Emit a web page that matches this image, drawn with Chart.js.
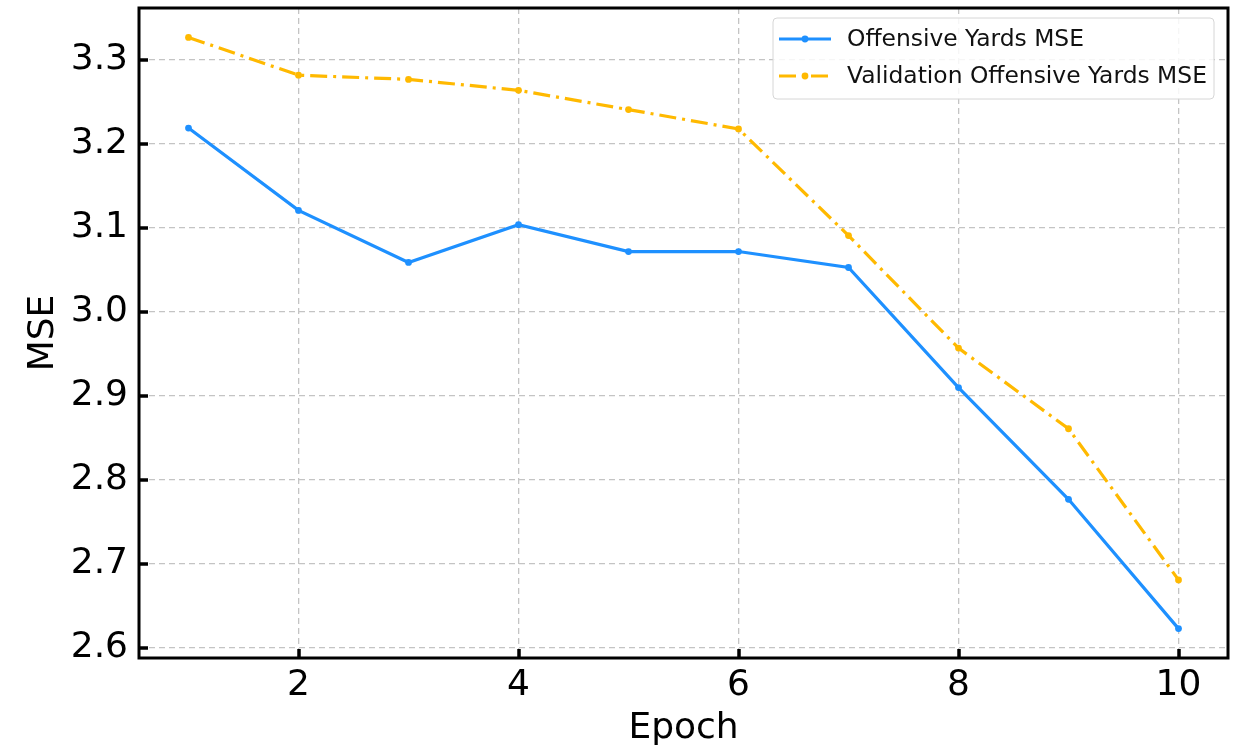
<!DOCTYPE html>
<html>
<head>
<meta charset="utf-8">
<script src="https://cdn.jsdelivr.net/npm/chart.js@4.4.1/dist/chart.umd.min.js"></script>
<style>
  html, body { margin: 0; padding: 0; background: #ffffff; }
  #wrap { width: 1235px; height: 754px; position: relative; }
</style>
</head>
<body>
<div id="wrap"><canvas id="chart"></canvas></div>
<script>
// Training history per epoch
const epochs = [1, 2, 3, 4, 5, 6, 7, 8, 9, 10];
const trainMSE = [3.219, 3.121, 3.059, 3.104, 3.072, 3.072, 3.053, 2.910, 2.777, 2.623];
const valMSE = [3.327, 3.282, 3.277, 3.264, 3.241, 3.218, 3.091, 2.957, 2.861, 2.681];
const xTicks = [2, 4, 6, 8, 10];
const yTicks = [2.6, 2.7, 2.8, 2.9, 3.0, 3.1, 3.2, 3.3];
const seriesNames = ['Offensive Yards MSE', 'Validation Offensive Yards MSE'];

const BLUE = '#1E90FF';
const GOLD = '#FFB900';
const FONT = "'DejaVu Sans', sans-serif";
const DASH_DOT = [17, 6, 3, 6];

const toPoints = (xs, ys) => xs.map((x, i) => ({ x: x, y: ys[i] }));

// Frame, inward tick marks and legend box drawn on top of the plot
const framePlugin = {
  id: 'frame',
  afterDatasetsDraw(chart) {
    const { ctx, chartArea: a, scales } = chart;
    ctx.save();
    // inward ticks
    ctx.strokeStyle = '#000';
    ctx.lineWidth = 3.5;
    ctx.beginPath();
    xTicks.forEach(v => {
      const px = Math.round(scales.x.getPixelForValue(v));
      ctx.moveTo(px, a.bottom);
      ctx.lineTo(px, a.bottom - 9);
    });
    yTicks.forEach(v => {
      const py = Math.round(scales.y.getPixelForValue(v));
      ctx.moveTo(a.left, py);
      ctx.lineTo(a.left + 9, py);
    });
    ctx.stroke();
    // frame
    ctx.lineWidth = 3;
    ctx.strokeRect(a.left, a.top, a.right - a.left, a.bottom - a.top);

    // legend
    const lx = 773, ly = 18, lw = 441, lh = 81;
    ctx.fillStyle = 'rgba(255,255,255,0.85)';
    ctx.strokeStyle = '#d6d6d6';
    ctx.lineWidth = 1;
    const r = 4;
    ctx.beginPath();
    ctx.moveTo(lx + r, ly);
    ctx.arcTo(lx + lw, ly, lx + lw, ly + lh, r);
    ctx.arcTo(lx + lw, ly + lh, lx, ly + lh, r);
    ctx.arcTo(lx, ly + lh, lx, ly, r);
    ctx.arcTo(lx, ly, lx + lw, ly, r);
    ctx.closePath();
    ctx.fill();
    ctx.stroke();

    const rows = [
      { y: 39, color: BLUE, dash: [] },
      { y: 76, color: GOLD, dash: DASH_DOT }
    ];
    ctx.font = '23.4px ' + FONT;
    ctx.textBaseline = 'middle';
    ctx.textAlign = 'left';
    rows.forEach((row, i) => {
      ctx.strokeStyle = row.color;
      ctx.lineWidth = 3.2;
      ctx.setLineDash(row.dash);
      ctx.beginPath();
      ctx.moveTo(779, row.y);
      ctx.lineTo(831, row.y);
      ctx.stroke();
      ctx.setLineDash([]);
      ctx.fillStyle = row.color;
      ctx.beginPath();
      ctx.arc(805, row.y, 3.4, 0, Math.PI * 2);
      ctx.fill();
      ctx.fillStyle = '#111';
      ctx.fillText(seriesNames[i], 847, row.y + 1);
    });
    ctx.restore();
  }
};

new Chart(document.getElementById('chart'), {
  type: 'line',
  data: {
    datasets: [
      {
        label: seriesNames[0],
        data: toPoints(epochs, trainMSE),
        borderColor: BLUE,
        backgroundColor: BLUE,
        borderWidth: 3.2,
        pointRadius: 3.4,
        pointHoverRadius: 3.4,
        pointBorderWidth: 0,
        tension: 0
      },
      {
        label: seriesNames[1],
        data: toPoints(epochs, valMSE),
        borderColor: GOLD,
        backgroundColor: GOLD,
        borderWidth: 3.2,
        borderDash: DASH_DOT,
        pointRadius: 3.4,
        pointHoverRadius: 3.4,
        pointBorderWidth: 0,
        tension: 0
      }
    ]
  },
  options: {
    responsive: true,
    maintainAspectRatio: false,
    animation: false,
    layout: { padding: { top: 8, right: 7, left: 0, bottom: 0 } },
    plugins: { legend: { display: false }, tooltip: { enabled: false }, title: { display: false } },
    scales: {
      x: {
        type: 'linear',
        min: 0.55,
        max: 10.45,
        afterBuildTicks(scale) { scale.ticks = xTicks.map(v => ({ value: v })); },
        afterFit(scale) {
          scale.height = 96;
          scale.paddingLeft = 0;
          scale.paddingRight = 0;
        },
        grid: {
          color: '#c4c4c4',
          lineWidth: 1.3,
          drawTicks: false
        },
        border: { display: false, dash: [6, 4] },
        ticks: {
          color: '#000',
          font: { family: FONT, size: 36 },
          padding: 6,
          maxRotation: 0,
          callback: v => String(v)
        },
        title: {
          display: true,
          text: 'Epoch',
          color: '#000',
          font: { family: FONT, size: 36 },
          padding: { top: 0, bottom: 4 }
        }
      },
      y: {
        type: 'linear',
        min: 2.588,
        max: 3.362,
        afterBuildTicks(scale) { scale.ticks = yTicks.map(v => ({ value: v })); },
        afterFit(scale) {
          scale.width = 139;
          scale.paddingTop = 0;
          scale.paddingBottom = 0;
        },
        grid: {
          color: '#c4c4c4',
          lineWidth: 1.3,
          drawTicks: false
        },
        border: { display: false, dash: [6, 4] },
        ticks: {
          color: '#000',
          font: { family: FONT, size: 36 },
          padding: 11,
          callback: v => v.toFixed(1)
        },
        title: {
          display: true,
          text: 'MSE',
          color: '#000',
          font: { family: FONT, size: 36 },
          padding: { top: 22, bottom: 0 }
        }
      }
    }
  },
  plugins: [framePlugin]
});
</script>
</body>
</html>
